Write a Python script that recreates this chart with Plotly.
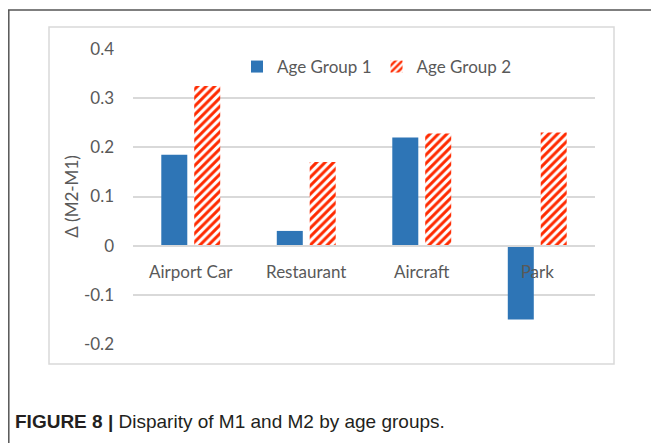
import plotly.graph_objects as go

categories = ["Airport Car", "Restaurant", "Aircraft", "Park"]
age_group_1 = [0.185, 0.03, 0.22, -0.15]
age_group_2 = [0.325, 0.17, 0.228, 0.23]
y_ticks = [-0.2, -0.1, 0, 0.1, 0.2, 0.3, 0.4]
y_tick_labels = ["-0.2", "-0.1", "0", "0.1", "0.2", "0.3", "0.4"]

# page has an 8px body margin: figure covers page pixels 8..659, 8..443
OFF = 8
W, H = 659 - OFF, 443 - OFF
L, R, T, B = 133 - OFF, 659 - 595, 49 - OFF, 443 - 344
pw, ph = W - L - R, H - T - B

def px(x):  # page x -> paper
    return (x - OFF - L) / pw

def py(y):  # page y -> paper
    return (H - B - (y - OFF)) / ph

font_main = "Lato, 'Open Sans', sans-serif"

fig = go.Figure()
fig.add_trace(go.Bar(
    x=categories, y=age_group_1, name="Age Group 1",
    marker=dict(color="#2E75B6", line=dict(width=0)),
))
fig.add_trace(go.Bar(
    x=categories, y=age_group_2, name="Age Group 2",
    marker=dict(color="white", line=dict(width=0),
                pattern=dict(shape="/", fgcolor="#FF2A00", bgcolor="white",
                             size=6, solidity=0.5, fgopacity=1)),
))

shapes = [
    # inner chart box
    dict(type="rect", xref="paper", yref="paper",
         x0=px(49), x1=px(614), y0=py(364), y1=py(27),
         line=dict(color="#D9D9D9", width=1.5), layer="below"),
    # outer frame left and top
    dict(type="line", xref="paper", yref="paper",
         x0=px(8.8), x1=px(8.8), y0=py(450), y1=py(10),
         line=dict(color="#555555", width=1.5)),
    dict(type="line", xref="paper", yref="paper",
         x0=px(8), x1=px(670), y0=py(10), y1=py(10),
         line=dict(color="#555555", width=1.5)),
]

fig.update_layout(
    width=W, height=H,
    margin=dict(l=L, r=R, t=T, b=B, autoexpand=False),
    paper_bgcolor="white", plot_bgcolor="white",
    barmode="group", bargap=0.43, bargroupgap=0.21,
    font=dict(family=font_main, size=17, color="#595959"),
    showlegend=True,
    legend=dict(orientation="h", x=px(237), y=py(67), xanchor="left", yanchor="middle",
                font=dict(size=17, color="#595959"), bgcolor="rgba(0,0,0,0)",
                itemwidth=30, traceorder="normal"),
    shapes=shapes,
    yaxis=dict(range=[-0.2, 0.4], tickvals=y_ticks, ticktext=y_tick_labels,
               showgrid=True, gridcolor="#D9D9D9", gridwidth=1.5,
               zeroline=False, showline=False, ticks="", ticklabelstandoff=18,
               automargin=False,
               title=dict(text="Δ (M2-M1)", standoff=0, font=dict(size=17, color="#595959")),
               domain=[0, 1]),
    xaxis=dict(anchor="free", position=1/3, showline=True, linecolor="#D9D9D9", linewidth=1.5,
               ticks="outside", ticklen=11, tickcolor="rgba(0,0,0,0)",
               automargin=False, showgrid=False, zeroline=False),
    annotations=[dict(
        xref="paper", yref="paper", x=px(13), y=py(421), xanchor="left", yanchor="middle",
        showarrow=False,
        text="<b>FIGURE 8 |</b> Disparity of M1 and M2 by age groups.",
        font=dict(family="'Liberation Sans Narrow', 'Liberation Sans', Arial, sans-serif",
                  size=19, color="#231F20"),
    )],
)

fig.write_html("out.html")
